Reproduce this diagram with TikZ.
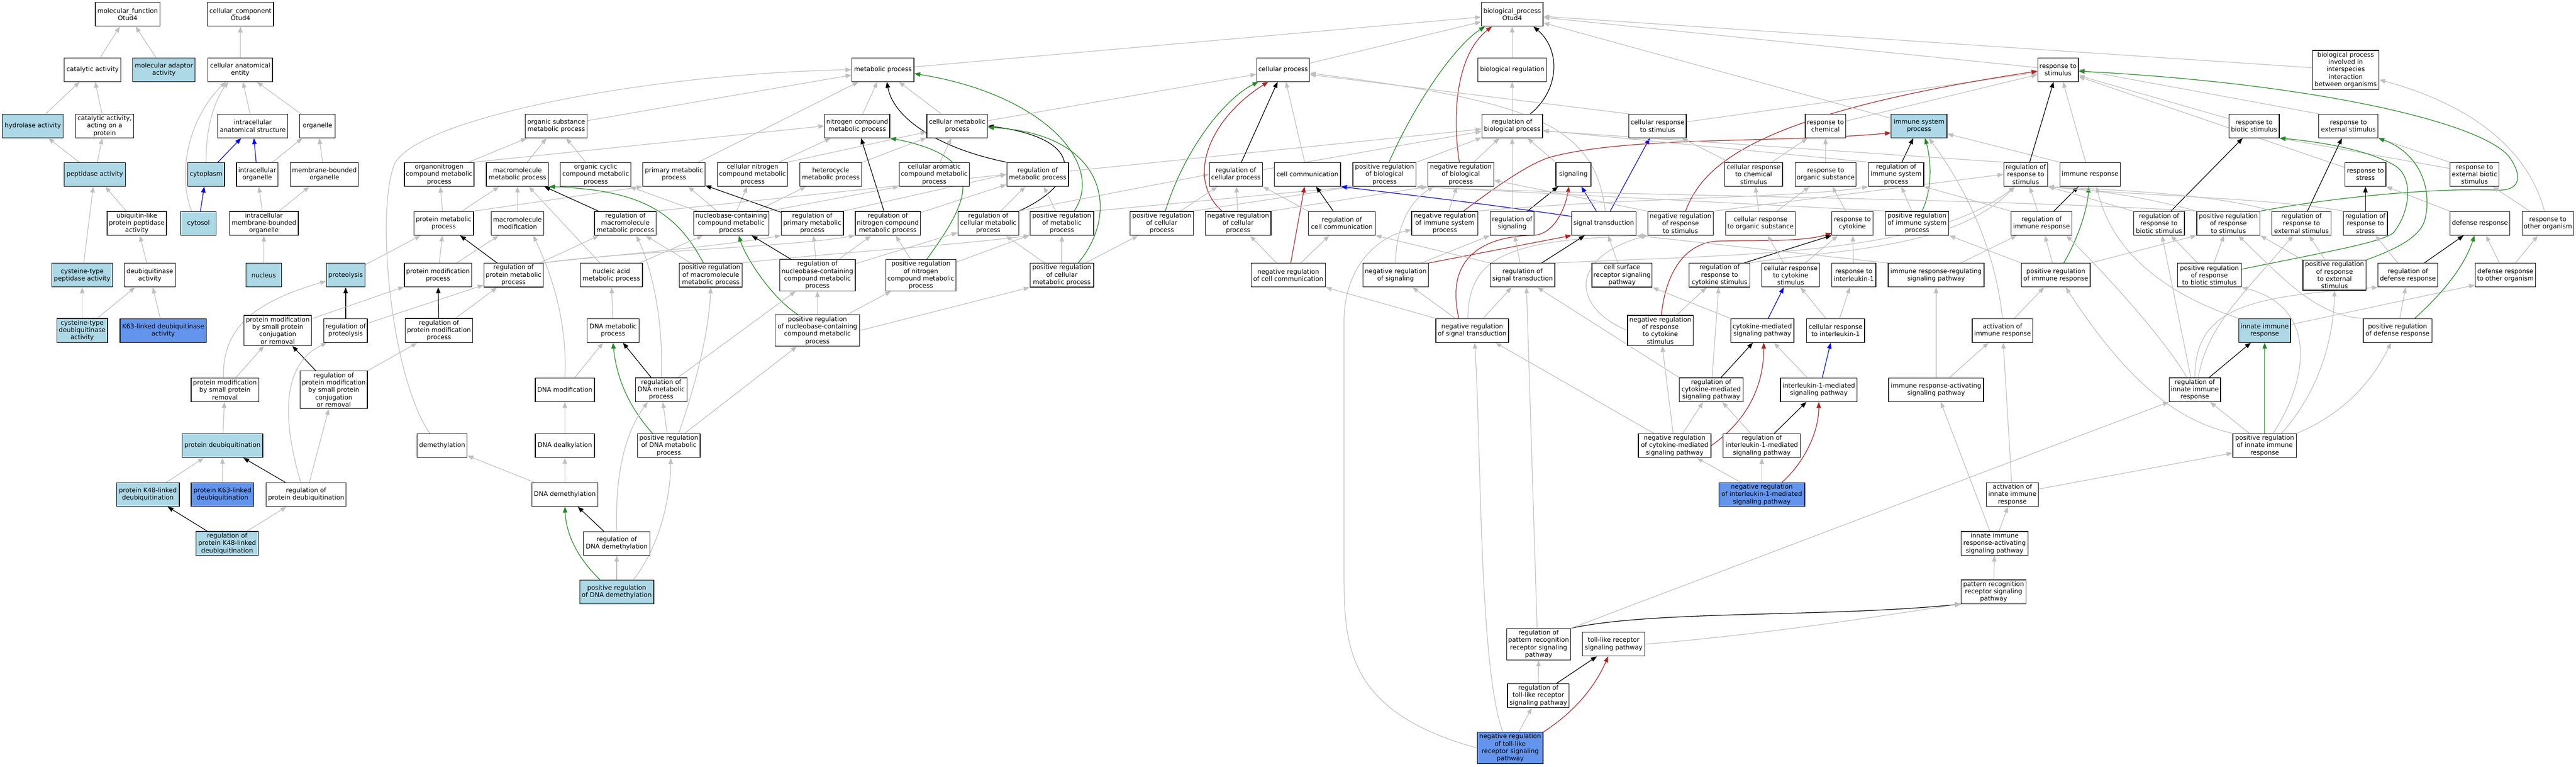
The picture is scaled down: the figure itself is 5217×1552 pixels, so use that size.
\documentclass[tikz,border=0pt]{standalone}
\usepackage{fontspec}
\setmainfont{DejaVu Sans}
\usetikzlibrary{arrows.meta}
\pgfdeclarelayer{bg}
\pgfsetlayers{bg,main}
\definecolor{eg}{RGB}{192,192,192}
\definecolor{lb}{RGB}{173,216,230}
\definecolor{cb}{RGB}{100,149,237}
\definecolor{fg}{RGB}{34,139,34}
\definecolor{fr}{RGB}{178,34,34}
\tikzset{
 nb/.style={draw=black, line width=1.3pt, fill=white, align=center, inner xsep=1.5pt, inner ysep=3pt, minimum height=48pt, font=\fontsize{12.8}{15}\selectfont},
 lbn/.style={fill=lb},
 cbn/.style={fill=cb},
 edgebase/.style={line width=1.3pt, -{Triangle[length=12pt,width=9pt]}},
 gE/.style={edgebase, draw=eg},
 kE/.style={edgebase, draw=black},
 grE/.style={edgebase, draw=fg},
 rE/.style={edgebase, draw=fr},
 bE/.style={edgebase, draw=blue},
}
\newcommand{\GOn}[5][]{\node[nb,#1,minimum width=#4pt] (#2) at (#3) {#5};}
\begin{document}
\begin{tikzpicture}[x=1pt,y=-1pt]
\useasboundingbox (0,0) rectangle (5217,1552);
% R0
\GOn{mf}{258.5,29}{131}{molecular\_function\\Otud4}
\GOn{cc}{487,29}{134}{cellular\_component\\Otud4}
\GOn{bp}{3062.5,29}{125}{biological\_process\\Otud4}
% R1
\GOn{catact}{187.5,141}{115}{catalytic activity}
\GOn[lbn]{molad}{332,141}{126}{molecular adaptor\\activity}
\GOn{cae}{486.5,141}{131}{cellular anatomical\\entity}
\GOn{metab}{1788,141}{126}{metabolic process}
\GOn{cellproc}{2598.5,141}{107}{cellular process}
\GOn{bioreg}{3062.5,141}{139}{biological regulation}
\GOn{respstim}{4168,141}{82}{response to\\stimulus}
\GOn{interspec}{4750.5,141.5}{135}{biological process\\involved in\\interspecies\\interaction\\between organisms}
% R2
\GOn[lbn]{hydro}{66.5,255}{123}{hydrolase activity}
\GOn{catprot}{212,255}{118}{catalytic activity,\\acting on a\\protein}
\GOn{ias}{512,255}{142}{intracellular\\anatomical structure}
\GOn{organelle}{643,255}{72}{organelle}
\GOn{orgsub}{1126.5,255}{125}{organic substance\\metabolic process}
\GOn{nitro}{1736,255}{132}{nitrogen compound\\metabolic process}
\GOn{cellmet}{1938.5,255}{123}{cellular metabolic\\process}
\GOn{regbio}{3062.5,255}{123}{regulation of\\biological process}
\GOn{cellrespstim}{3357,255}{116}{cellular response\\to stimulus}
\GOn{respchem}{3697,255}{82}{response to\\chemical}
\GOn[lbn]{immsys}{3886.5,255}{113}{immune system\\process}
\GOn{respbiotic}{4565,255}{102}{response to\\biotic stimulus}
\GOn{respext}{4756,255}{120}{response to\\external stimulus}
% R3
\GOn[lbn]{peptid}{192,353}{124}{peptidase activity}
\GOn[lbn]{cytoplasm}{417.5,353}{75}{cytoplasm}
\GOn{icorg}{521,353}{84}{intracellular\\organelle}
\GOn{mborg}{657,353}{138}{membrane-bounded\\organelle}
\GOn{orgnitro}{889.5,353}{141}{organonitrogen\\compound metabolic\\process}
\GOn{macromet}{1048,353}{126}{macromolecule\\metabolic process}
\GOn{orgcyc}{1206.5,353}{143}{organic cyclic\\compound metabolic\\process}
\GOn{primet}{1365,353}{126}{primary metabolic\\process}
\GOn{cellnitro}{1524,353}{142}{cellular nitrogen\\compound metabolic\\process}
\GOn{hetero}{1682.5,353}{125}{heterocycle\\metabolic process}
\GOn{cellarom}{1892,353}{142}{cellular aromatic\\compound metabolic\\process}
\GOn{regmet}{2101.5,353}{125}{regulation of\\metabolic process}
\GOn{regcell}{2503,353}{108}{regulation of\\cellular process}
\GOn{cellcomm}{2648,353}{134}{cell communication}
\GOn{posregbio}{2804,353}{128}{positive regulation\\of biological\\process}
\GOn{negregbio}{2958.5,353}{133}{negative regulation\\of biological\\process}
\GOn{signaling}{3186.5,353}{71}{signaling}
\GOn{cellrespchem}{3551.5,353}{117}{cellular response\\to chemical\\stimulus}
\GOn{resporg}{3697.5,353}{123}{response to\\organic substance}
\GOn{regimmsys}{3840,353}{112}{regulation of\\immune system\\process}
\GOn{regrespstim}{4102.5,353}{89}{regulation of\\response to\\stimulus}
\GOn{immresp}{4233,353}{122}{immune response}
\GOn{respstress}{4790.5,353}{83}{response to\\stress}
\GOn{respextbio}{5011.5,353}{99}{response to\\external biotic\\stimulus}
% R4
\GOn{ubl}{277,452}{120}{ubiquitin-like\\protein peptidase\\activity}
\GOn[lbn]{cytosol}{402,452}{72}{cytosol}
\GOn{imbo}{534.5,452}{139}{intracellular\\membrane-bounded\\organelle}
\GOn{protmet}{898.5,452}{121}{protein metabolic\\process}
\GOn{macromod}{1048,452}{106}{macromolecule\\modification}
\GOn{regmacro}{1266.5,452}{125}{regulation of\\macromolecule\\metabolic process}
\GOn{nucleo}{1481,452}{152}{nucleobase-containing\\compound metabolic\\process}
\GOn{regprim}{1645,452}{126}{regulation of\\primary metabolic\\process}
\GOn{regnitro}{1798,452}{132}{regulation of\\nitrogen compound\\metabolic process}
\GOn{regcellmet}{2001.5,452}{123}{regulation of\\cellular metabolic\\process}
\GOn{posregmet}{2150.5,452}{129}{positive regulation\\of metabolic\\process}
\GOn{posregcell}{2353,452}{128}{positive regulation\\of cellular\\process}
\GOn{negregcell}{2507.5,452}{133}{negative regulation\\of cellular\\process}
\GOn{regcellcomm}{2717.5,452}{135}{regulation of\\cell communication}
\GOn{negregimm}{2926,452}{134}{negative regulation\\of immune system\\process}
\GOn{regsig}{3062.5,452}{89}{regulation of\\signaling}
\GOn{sigtrans}{3248,452}{130}{signal transduction}
\GOn{negregrespstim}{3403.5,452}{133}{negative regulation\\of response\\to stimulus}
\GOn{cellresporg}{3565.5,452}{141}{cellular response\\to organic substance}
\GOn{respcyt}{3751.5,452}{83}{response to\\cytokine}
\GOn{posregimmsys}{3882.5,452}{129}{positive regulation\\of immune system\\process}
\GOn{regimmresp}{4134.5,452}{123}{regulation of\\immune response}
\GOn{regrespbio}{4372.5,452}{103}{regulation of\\response to\\biotic stimulus}
\GOn{posregrespstim}{4513,452}{128}{positive regulation\\of response\\to stimulus}
\GOn{regrespext}{4661,452}{120}{regulation of\\response to\\external stimulus}
\GOn{regrespstress}{4790.5,452}{89}{regulation of\\response to\\stress}
\GOn{defresp}{5022.5,452}{121}{defense response}
\GOn{resporgn}{5160,452}{104}{response to\\other organism}
% R5
\GOn[lbn]{cyspep}{166.5,557}{123}{cysteine-type\\peptidase activity}
\GOn{deubact}{303.5,557}{103}{deubiquitinase\\activity}
\GOn[lbn]{nucleus}{534,557}{72}{nucleus}
\GOn[lbn]{proteolysis}{700,557}{78}{proteolysis}
\GOn{protmod}{887,557}{136}{protein modification\\process}
\GOn{regprotmet}{1040,557}{120}{regulation of\\protein metabolic\\process}
\GOn{nucacid}{1238,557}{126}{nucleic acid\\metabolic process}
\GOn{posregmacro}{1439.5,557}{127}{positive regulation\\of macromolecule\\metabolic process}
\GOn{regnucleo}{1655.5,557}{153}{regulation of\\nucleobase-containing\\compound metabolic\\process}
\GOn{posregnitro}{1865,557}{142}{positive regulation\\of nitrogen\\compound metabolic\\process}
\GOn{posregcellmet}{2150.5,557}{129}{positive regulation\\of cellular\\metabolic process}
\GOn{negregcellcomm}{2609,557}{150}{negative regulation\\of cell communication}
\GOn{negregsig}{2826.5,557}{133}{negative regulation\\of signaling}
\GOn{regsigtrans}{3083.5,557}{131}{regulation of\\signal transduction}
\GOn{csrsp}{3285,557}{122}{cell surface\\receptor signaling\\pathway}
\GOn{regrespcyt}{3482.5,557}{123}{regulation of\\response to\\cytokine stimulus}
\GOn{cellrespcyt}{3626.5,557}{117}{cellular response\\to cytokine\\stimulus}
\GOn{respil1}{3754.5,557}{89}{response to\\interleukin-1}
\GOn{irrsp}{3921,557}{194}{immune response-regulating\\signaling pathway}
\GOn{posregimmresp}{4163.5,557}{139}{positive regulation\\of immune response}
\GOn{posregrespbio}{4474.5,557}{129}{positive regulation\\of response\\to biotic stimulus}
\GOn{posregrespext}{4728,557}{128}{positive regulation\\of response\\to external\\stimulus}
\GOn{regdef}{4876.5,557}{121}{regulation of\\defense response}
\GOn{defrespother}{5074,557}{122}{defense response\\to other organism}
% R6
\GOn[lbn]{cysdeub}{166.5,669}{103}{cysteine-type\\deubiquitinase\\activity}
\GOn[cbn]{k63deub}{330.5,669}{175}{K63-linked deubiquitinase\\activity}
\GOn{pmsp}{562.5,669}{137}{protein modification\\by small protein\\conjugation\\or removal}
\GOn{regproteolysis}{700,669}{88}{regulation of\\proteolysis}
\GOn{regprotmod}{889,669}{136}{regulation of\\protein modification\\process}
\GOn{dnamet}{1241.5,669}{105}{DNA metabolic\\process}
\GOn{posregnucleo}{1655.5,669}{171}{positive regulation\\of nucleobase-containing\\compound metabolic\\process}
\GOn{negregsigtrans}{2981.5,669}{147}{negative regulation\\of signal transduction}
\GOn{negregrespcyt}{3362.5,669}{133}{negative regulation\\of response\\to cytokine\\stimulus}
\GOn{cytmed}{3569,669}{128}{cytokine-mediated\\signaling pathway}
\GOn{cellrespil1}{3717.5,669}{117}{cellular response\\to interleukin-1}
\GOn{actimm}{4055.5,669}{123}{activation of\\immune response}
\GOn[lbn]{innate}{4586.5,669}{105}{innate immune\\response}
\GOn{posregdef}{4855.5,669}{139}{positive regulation\\of defense response}
% R7
\GOn{pmspr}{455.5,789}{137}{protein modification\\by small protein\\removal}
\GOn{regpmsp}{676,789}{136}{regulation of\\protein modification\\by small protein\\conjugation\\or removal}
\GOn{dnamod}{1144,789}{120}{DNA modification}
\GOn{regdnamet}{1339,789}{104}{regulation of\\DNA metabolic\\process}
\GOn{regcytmed}{3465.5,789}{129}{regulation of\\cytokine-mediated\\signaling pathway}
\GOn{il1med}{3683.5,789}{155}{interleukin-1-mediated\\signaling pathway}
\GOn{iasp}{3921,789}{192}{immune response-activating\\signaling pathway}
\GOn{reginnate}{4445,789}{104}{regulation of\\innate immune\\response}
% R8
\GOn[lbn]{protdeub}{450.5,902}{163}{protein deubiquitination}
\GOn{demeth}{895.5,902}{101}{demethylation}
\GOn{dnadealk}{1144,902}{120}{DNA dealkylation}
\GOn{posregdnamet}{1354.5,902}{127}{positive regulation\\of DNA metabolic\\process}
\GOn{negregcytmed}{3391.5,902}{147}{negative regulation\\of cytokine-mediated\\signaling pathway}
\GOn{regil1}{3568,902}{156}{regulation of\\interleukin-1-mediated\\signaling pathway}
\GOn{posreginnate}{4586.5,902}{129}{positive regulation\\of innate immune\\response}
% R9
\GOn[lbn]{k48deub}{299.5,1001}{127}{protein K48-linked\\deubiquitination}
\GOn[cbn]{k63pdeub}{450.5,1001}{127}{protein K63-linked\\deubiquitination}
\GOn{regprotdeub}{620,1001}{162}{regulation of\\protein deubiquitination}
\GOn{dnademeth}{1144,1001}{134}{DNA demethylation}
\GOn[cbn]{negregil1}{3568,1001}{174}{negative regulation\\of interleukin-1-mediated\\signaling pathway}
\GOn{actinnate}{4075.5,1001}{105}{activation of\\innate immune\\response}
% R10
\GOn[lbn]{regk48}{460,1100}{126}{regulation of\\protein K48-linked\\deubiquitination}
\GOn{regdnademeth}{1249,1100}{134}{regulation of\\DNA demethylation}
\GOn{iiasp}{4039.5,1100}{135}{innate immune\\response-activating\\signaling pathway}
% R11
\GOn[lbn]{posregdnademeth}{1249,1198}{150}{positive regulation\\of DNA demethylation}
\GOn{prrsp}{4037.5,1198}{131}{pattern recognition\\receptor signaling\\pathway}
% R12-14
\GOn{regprr}{3116,1304}{130}{regulation of\\pattern recognition\\receptor signaling\\pathway}
\GOn{tlr}{3268,1304}{126}{toll-like receptor\\signaling pathway}
\GOn{regtlr}{3115.5,1408}{125}{regulation of\\toll-like receptor\\signaling pathway}
\GOn[cbn]{negregtlr}{3058.5,1514}{133}{negative regulation\\of toll-like\\receptor signaling\\pathway}

\begin{pgfonlayer}{bg}
% molecular function
\draw[gE] (catact) -- (mf);
\draw[gE] (molad) -- (mf);
\draw[gE] (hydro) -- (catact);
\draw[gE] (catprot) -- (catact);
\draw[gE] (peptid) -- (hydro);
\draw[gE] (peptid) -- (catprot);
\draw[gE] (ubl) -- (peptid);
\draw[gE] (cyspep) -- (peptid);
\draw[gE] (deubact) -- (ubl);
\draw[gE] (cysdeub) -- (cyspep);
\draw[gE] (cysdeub) -- (deubact);
\draw[gE] (k63deub) -- (deubact);
% cellular component
\draw[gE] (cae) -- (cc);
\draw[gE] (ias) -- (cae);
\draw[gE] (organelle) -- (cae);
\draw[gE] ([xshift=-14pt]cytosol.north) .. controls (355,340) and (390,230) .. ([xshift=-29pt]cae.south);
\draw[gE] (cytoplasm.north) .. controls (416,250) and (440,195) .. ([xshift=-24pt]cae.south);
\draw[bE] (cytoplasm) -- (ias);
\draw[bE] (icorg) -- (ias);
\draw[gE] (icorg) -- (organelle);
\draw[gE] (mborg) -- (organelle);
\draw[bE] (cytosol) -- (cytoplasm);
\draw[gE] (imbo) -- (icorg);
\draw[gE] (imbo) -- (mborg);
\draw[gE] (nucleus) -- (imbo);
% protein
\draw[gE] (proteolysis) -- (protmet);
\draw[kE] (regproteolysis) -- (proteolysis);
\draw[gE] (regproteolysis) -- (regprotmet);
\draw[gE] (pmsp) -- (protmod);
\draw[gE] (pmspr) -- (pmsp);
\draw[gE] ([xshift=-3pt]pmspr.north) .. controls (450,660) and (520,610) .. ([yshift=-12pt]proteolysis.west);
\draw[kE] (regpmsp) -- (pmsp);
\draw[gE] (regpmsp) -- (regprotmod);
\draw[gE] ([xshift=-11pt]regprotdeub.north) .. controls (575,860) and (565,740) .. ([xshift=-38pt]regproteolysis.south);
\draw[gE] (regprotdeub) -- (regpmsp);
\draw[kE] (regprotdeub) -- (protdeub);
\draw[gE] (protdeub) -- (pmspr);
\draw[gE] (k48deub) -- (protdeub);
\draw[gE] (k63pdeub) -- (protdeub);
\draw[kE] (regk48) -- (k48deub);
\draw[gE] (regk48) -- (regprotdeub);
\draw[kE] (regprotmod) -- (protmod);
\draw[gE] (regprotmod) -- (regprotmet);
\draw[gE] (protmod) -- (protmet);
\draw[gE] (protmod) -- (macromod);
\draw[gE] (protmet) -- (orgnitro);
\draw[gE] (protmet) -- (macromet);
\draw[gE] (protmet.north east) -- (primet.south west);
\draw[kE] (regprotmet) -- (protmet);
\draw[gE] (regprotmet) -- (regmacro);
\draw[gE] (regprotmet.north east) .. controls (1200,520) and (1450,500) .. (regprim.south west);
\draw[gE] (regprotmet.north east) .. controls (1250,510) and (1600,500) .. (regnitro.south west);
% metabolic
\draw[gE] (orgsub) -- (metab);
\draw[gE] (primet) -- (metab);
\draw[gE] (nitro) -- (metab);
\draw[gE] (cellmet) -- (metab);
\draw[gE] ([xshift=-25pt]demeth.north) .. controls (790,760) and (760,420) .. (800,330) .. controls (850,240) and (1300,150) .. (metab.west);
\draw[kE] (regmet.north west) .. controls (1900,300) and (1810,240) .. ([xshift=8pt]metab.south);
\draw[grE] ([xshift=25pt]posregmet.north) .. controls (2240,330) and (2110,190) .. ([yshift=-8pt]metab.east);
\draw[gE] (orgnitro) -- (orgsub);
\draw[gE] (orgnitro.north east) -- (nitro.west);
\draw[gE] (macromet) -- (orgsub);
\draw[gE] (orgcyc) -- (orgsub);
\draw[gE] (macromod) -- (macromet);
\draw[kE] (regmacro) -- (macromet);
\draw[grE] ([xshift=-15pt]posregmacro.north) .. controls (1370,430) and (1300,385) .. (macromet.south east);
\draw[gE] (nucacid) -- (macromet);
\draw[gE] (nucleo) -- (orgcyc);
\draw[gE] (nucleo) -- (primet);
\draw[gE] (nucleo) -- (cellnitro);
\draw[gE] (nucleo) -- (hetero);
\draw[gE] (nucleo.north east) -- (cellarom.south west);
\draw[gE] (cellnitro) -- (nitro);
\draw[gE] (cellnitro.north east) -- ([yshift=-12pt]cellmet.west);
\draw[gE] (hetero) -- (cellmet);
\draw[gE] (cellarom) -- (cellmet);
\draw[kE] (regprim) -- (primet);
\draw[gE] (regprim.north east) -- (regmet.west);
\draw[kE] (regnitro) -- (nitro);
\draw[gE] (regnitro) -- (regmet);
\draw[gE] (regmacro.north east) -- (regmet.west);
\draw[kE] (regcellmet.north east) .. controls (2190,370) and (2200,280) .. (cellmet.east);
\draw[gE] (regcellmet) -- (regmet);
\draw[gE] (regcellmet.north east) -- (regcell.west);
\draw[gE] (posregmet) -- (regmet);
\draw[gE] (posregmet.north east) -- (posregbio.south west);
\draw[grE] ([xshift=33pt]posregcellmet.north) .. controls (2270,430) and (2240,270) .. ([yshift=-3pt]cellmet.east);
\draw[gE] (posregcellmet) -- (posregmet);
\draw[gE] (posregcellmet) -- (regcellmet);
\draw[gE] (posregcellmet) -- (posregcell);
\draw[grE] ([xshift=12pt]posregnitro.north) .. controls (1960,410) and (2010,320) .. (nitro.south east);
\draw[gE] (posregnitro) -- (regnitro);
\draw[gE] (posregnitro) -- (posregmet);
\draw[gE] (nucacid) -- (nucleo);
\draw[gE] (dnamet) -- (nucacid);
\draw[gE] (posregmacro) -- (regmacro);
\draw[gE] (posregmacro.north east) .. controls (1700,510) and (1900,500) .. (posregmet.south west);
\draw[kE] (regnucleo) -- (nucleo);
\draw[gE] (regnucleo) -- (regprim);
\draw[gE] (regnucleo) -- (regnitro);
\draw[gE] (regnucleo) -- (regcellmet);
\draw[gE] (posregnucleo) -- (regnucleo);
\draw[grE] ([xshift=-40pt]posregnucleo.north) .. controls (1560,600) and (1510,520) .. ([xshift=15pt]nucleo.south);
\draw[gE] (posregnucleo) -- (posregnitro);
\draw[gE] (posregnucleo.east) -- (posregcellmet.south west);
\draw[gE] (dnamod) -- (dnamet);
\draw[gE] (dnamod.north) .. controls (1150,640) and (1110,540) .. ([xshift=32pt]macromod.south);
\draw[kE] (regdnamet) -- (dnamet);
\draw[gE] (regdnamet.north) .. controls (1345,640) and (1315,530) .. ([xshift=22pt]regmacro.south);
\draw[gE] (regdnamet) -- (regnucleo);
\draw[grE] ([xshift=-33pt]posregdnamet.north) .. controls (1270,820) and (1248,760) .. (dnamet.south);
\draw[gE] (posregdnamet) -- (regdnamet);
\draw[gE] ([xshift=20pt]posregdnamet.north) .. controls (1405,790) and (1435,680) .. (posregmacro.south);
\draw[gE] (posregdnamet) -- (posregnucleo);
\draw[gE] (dnadealk) -- (dnamod);
\draw[gE] (dnademeth) -- (dnadealk);
\draw[gE] (dnademeth) -- (demeth);
\draw[kE] (regdnademeth) -- (dnademeth);
\draw[gE] (regdnademeth.north) .. controls (1245,950) and (1270,870) .. ([xshift=-27pt]regdnamet.south);
\draw[grE] ([xshift=-34pt]posregdnademeth.north) .. controls (1160,1120) and (1146,1070) .. (dnademeth.south);
\draw[gE] (posregdnademeth) -- (regdnademeth);
\draw[gE] ([xshift=34pt]posregdnademeth.north) .. controls (1340,1100) and (1358,1000) .. ([xshift=4pt]posregdnamet.south);
\draw[gE] (metab) -- (bp);
\draw[gE] (regmet) -- (regbio);
% cellular process
\draw[gE] (cellproc) -- (bp);
\draw[gE] (cellmet) -- (cellproc);
\draw[kE] (regcell) -- (cellproc);
\draw[grE] ([xshift=7pt]posregcell.north) .. controls (2400,300) and (2480,200) .. ([xshift=-50pt]cellproc.south);
\draw[rE] ([xshift=-33pt]negregcell.north) .. controls (2400,360) and (2450,240) .. ([xshift=-30pt]cellproc.south);
\draw[gE] (cellcomm) -- (cellproc);
\draw[gE] (posregcell) -- (regcell);
\draw[gE] (negregcell) -- (regcell);
\draw[gE] (regcell) -- (regbio);
\draw[gE] (posregcell.north east) -- (posregbio.south west);
\draw[gE] (negregcell.north east) -- (negregbio.south west);
\draw[gE] (negregcellcomm) -- (negregcell);
\draw[rE] ([xshift=5pt]negregcellcomm.north) -- ([xshift=-6pt]cellcomm.south);
\draw[gE] (negregcellcomm) -- (regcellcomm);
\draw[kE] (regcellcomm) -- (cellcomm);
\draw[gE] (regcellcomm.north west) -- (regcell.south east);
% biological
\draw[gE] (bioreg) -- (bp);
\draw[gE] (regbio) -- (bioreg);
\draw[kE] ([xshift=37pt]regbio.north) .. controls (3160,180) and (3160,100) .. ([xshift=43pt]bp.south);
\draw[grE] ([xshift=9pt]posregbio.north) .. controls (2870,200) and (2950,90) .. ([xshift=-55pt]bp.south);
\draw[rE] ([xshift=-3pt]negregbio.north) .. controls (2940,230) and (2950,110) .. ([xshift=-41pt]bp.south);
\draw[gE] (posregbio) -- (regbio);
\draw[gE] (negregbio) -- (regbio);
\draw[gE] (signaling.north west) -- ([xshift=31pt]regbio.south);
\draw[gE] (regsig) -- (regbio);
\draw[kE] (regsig) -- (signaling);
\draw[bE] ([xshift=-15pt]sigtrans.north) -- ([xshift=16pt]signaling.south);
\draw[bE] ([xshift=13pt]sigtrans.north) -- ([xshift=-16pt]cellrespstim.south);
\draw[bE] ([yshift=14pt]sigtrans.west) .. controls (2990,410) and (2830,392) .. (cellcomm.south east);
\draw[gE] ([xshift=3pt]sigtrans.north) .. controls (3230,250) and (3100,205) .. ([yshift=-7pt]cellproc.east);
\draw[gE] (cellrespstim.north west) -- ([yshift=-10pt]cellproc.east);
\draw[gE] (cellrespstim) -- (respstim);
\draw[gE] (negregimm) -- (negregbio);
\draw[rE] ([xshift=38pt]negregimm.north) .. controls (3040,370) and (3100,330) .. (3140,318) .. controls (3300,275) and (3600,290) .. ([yshift=-14pt]immsys.west);
\draw[gE] (negregimm.north east) .. controls (3300,400) and (3650,400) .. (regimmsys.south west);
\draw[rE] ([xshift=10pt]negregrespstim.north) .. controls (3450,330) and (3560,230) .. ([yshift=-3pt]respstim.west);
\draw[gE] (negregrespstim.north west) -- ([yshift=-12pt]negregbio.east);
\draw[gE] (negregrespstim.north east) -- (regrespstim.west);
\draw[rE] (negregsig.north east) -- (sigtrans.south west);
\draw[rE] ([xshift=-27pt]negregsigtrans.north) .. controls (2930,540) and (2980,478) .. (3110,476) .. controls (3150,470) and (3170,420) .. ([xshift=-9pt]signaling.south);
\draw[gE] ([xshift=-15pt]negregsig.north east) -- (regsig.south west);
\draw[gE] (negregsig.north) .. controls (2826,470) and (2850,410) .. ([xshift=-55pt]negregbio.south);
\draw[gE] (negregsigtrans) -- (negregsig);
\draw[gE] (negregsigtrans) -- (regsigtrans);
\draw[gE] (negregsigtrans.north west) -- (negregcellcomm.south east);
\draw[gE] ([xshift=-9pt]negregsigtrans.north) .. controls (2975,520) and (3050,485) .. (negregrespstim.south west);
\draw[kE] (regsigtrans) -- (sigtrans);
\draw[gE] (regsigtrans) -- (regsig);
\draw[gE] (regsigtrans.north west) -- (regcellcomm.south east);
\draw[gE] (regsigtrans.north east) .. controls (3500,515) and (3900,520) .. ([xshift=-22pt]regrespstim.south);
\draw[gE] (csrsp) -- (sigtrans);
\draw[gE] (negregrespcyt) -- (regrespcyt);
\draw[gE] (negregrespcyt.west) .. controls (3180,620) and (3180,520) .. (negregrespstim.south west);
\draw[rE] ([xshift=2pt]negregrespcyt.north) .. controls (3375,540) and (3420,490) .. (3480,488) .. controls (3560,486) and (3650,490) .. ([yshift=-20pt]respcyt.west);
\draw[kE] ([xshift=50pt]regrespcyt.north) -- (respcyt.south west);
\draw[gE] (regrespcyt.north east) .. controls (3700,505) and (3950,510) .. ([xshift=-22pt]regrespstim.south);
\draw[kE] ([xshift=20pt]regcytmed.north) -- ([xshift=-19pt]cytmed.south);
\draw[gE] (regcytmed) -- (regrespcyt);
\draw[gE] (regcytmed.north west) -- ([xshift=30pt]regsigtrans.south);
\draw[gE] (negregcytmed) -- (regcytmed);
\draw[gE] (negregcytmed) -- (negregrespcyt);
\draw[gE] ([xshift=-42pt]negregcytmed.north) -- ([xshift=47pt]negregsigtrans.south);
\draw[rE] (negregcytmed.east) .. controls (3540,850) and (3572,780) .. ([xshift=3pt]cytmed.south);
\draw[gE] ([xshift=-3pt]regprr.north) -- ([xshift=8pt]regsigtrans.south);
\draw[kE] (regprr.north east) .. controls (3350,1235) and (3700,1250) .. (prrsp.south west);
\draw[gE] (tlr.east) .. controls (3600,1282) and (3850,1240) .. (prrsp.south west);
\draw[gE] (regprr.north east) -- (reginnate.south west);
\draw[kE] ([xshift=37pt]regtlr.north) -- ([xshift=-34pt]tlr.south);
\draw[gE] (regtlr) -- (regprr);
\draw[gE] (negregtlr) -- (regtlr);
\draw[rE] (negregtlr.north east) .. controls (3190,1440) and (3230,1390) .. ([xshift=-11pt]tlr.south);
\draw[gE] ([xshift=-15pt]negregtlr.north) .. controls (2995,1350) and (3000,900) .. ([xshift=5pt]negregsigtrans.south);
\draw[gE] (negregtlr.west) .. controls (2720,1440) and (2722,1300) .. (2722,1150) -- (2722,650) .. controls (2722,540) and (2790,480) .. ([yshift=-13pt]negregimm.west);
% stimulus
\draw[gE] (respstim) -- (bp);
\draw[gE] (immsys) -- (bp);
\draw[gE] (interspec) -- (bp);
\draw[gE] (respchem) -- (respstim);
\draw[gE] (resporg) -- (respchem);
\draw[gE] (cellrespchem) -- (respchem);
\draw[gE] (cellrespchem) -- (cellrespstim);
\draw[kE] (regimmsys) -- (immsys);
\draw[grE] ([xshift=10pt]posregimmsys.north) .. controls (3915,380) and (3910,320) .. ([xshift=12pt]immsys.south);
\draw[gE] (posregimmsys) -- (regimmsys);
\draw[gE] (posregimmsys.north west) -- (posregbio.south east);
\draw[gE] (actimm.north) .. controls (4040,500) and (3980,380) .. ([xshift=20pt]immsys.south);
\draw[gE] (immresp.north west) -- ([yshift=-16pt]immsys.east);
\draw[gE] ([xshift=-9pt]immresp.north) -- ([xshift=10pt]respstim.south);
\draw[kE] ([xshift=8pt]regrespstim.north) -- ([xshift=-9pt]respstim.south);
\draw[gE] (regimmsys.north west) -- ([yshift=-9pt]regbio.east);
\draw[gE] (regrespstim.north west) -- ([yshift=-10pt]regbio.east);
\draw[gE] (cellresporg) -- (resporg);
\draw[gE] (cellresporg) -- (cellrespchem);
\draw[gE] (respcyt) -- (resporg);
\draw[kE] ([xshift=25pt]regimmresp.north) -- ([xshift=-24pt]immresp.south);
\draw[gE] (regimmresp.north west) -- (regimmsys.south east);
\draw[gE] (regimmresp) -- (regrespstim);
\draw[grE] ([xshift=16pt]posregimmresp.north) .. controls (4210,480) and (4228,420) .. ([xshift=-3pt]immresp.south);
\draw[gE] (posregimmresp) -- (regimmresp);
\draw[gE] (posregimmresp.north west) -- (posregimmsys.south east);
\draw[gE] (posregimmresp.north east) -- (posregrespstim.south west);
\draw[gE] ([xshift=50pt]irrsp.north) -- ([xshift=-50pt]regimmresp.south);
\draw[gE] (irrsp.north west) -- (sigtrans.south east);
\draw[gE] (cellrespcyt) -- (respcyt);
\draw[gE] (cellrespcyt) -- (cellresporg);
\draw[gE] (respil1) -- (respcyt);
\draw[bE] ([xshift=12pt]cytmed.north) -- ([xshift=-14pt]cellrespcyt.south);
\draw[gE] (cytmed.north west) -- (csrsp.south east);
\draw[gE] (cellrespil1) -- (cellrespcyt);
\draw[gE] (cellrespil1) -- (respil1);
\draw[bE] ([xshift=7pt]il1med.north) -- ([xshift=-10pt]cellrespil1.south);
\draw[gE] (il1med) -- (cytmed);
\draw[kE] (regil1) -- (il1med);
\draw[gE] (regil1) -- (regcytmed);
\draw[gE] (negregil1) -- (regil1);
\draw[rE] ([xshift=41pt]negregil1.north) .. controls (3650,940) and (3683,880) .. (il1med.south);
\draw[gE] ([xshift=-43pt]negregil1.north) -- ([xshift=45pt]negregcytmed.south);
\draw[gE] (iasp) -- (irrsp);
\draw[gE] ([xshift=27pt]iasp.north) -- ([xshift=-28pt]actimm.south);
\draw[gE] (actimm) -- (posregimmresp);
\draw[gE] (actinnate) -- (actimm);
\draw[gE] ([yshift=11pt]actinnate.east) -- ([yshift=-15pt]posreginnate.west);
\draw[gE] (iiasp) -- (iasp);
\draw[gE] (iiasp) -- (actinnate);
\draw[gE] (prrsp) -- (iiasp);
\draw[gE] (posreginnate) -- (reginnate);
\draw[grE] (posreginnate) -- (innate);
\draw[gE] ([xshift=17pt]posreginnate.north) .. controls (4680,760) and (4690,620) .. (posregrespbio.south east);
\draw[gE] ([xshift=34pt]posreginnate.north) .. controls (4690,800) and (4725,700) .. (posregrespext.south);
\draw[gE] (posreginnate.north east) .. controls (4740,840) and (4800,780) .. ([xshift=-13pt]posregdef.south);
\draw[gE] (posreginnate.north west) .. controls (4400,850) and (4300,760) .. ([xshift=20pt]posregimmresp.south);
\draw[kE] ([xshift=29pt]reginnate.north) -- ([xshift=-28pt]innate.south);
\draw[gE] ([xshift=-16pt]reginnate.north) .. controls (4380,680) and (4250,540) .. ([xshift=50pt]regimmresp.south);
\draw[gE] ([xshift=-8pt]reginnate.north) -- ([xshift=6pt]regrespbio.south);
\draw[gE] (reginnate.north) .. controls (4445,620) and (4560,600) .. (regdef.south west);
\draw[gE] ([xshift=7pt]reginnate.north) .. controls (4470,660) and (4540,600) .. ([xshift=-17pt]regrespext.south);
\draw[gE] (innate.north west) .. controls (4400,600) and (4280,520) .. ([xshift=13pt]immresp.south);
\draw[gE] ([yshift=12pt]innate.east) -- ([yshift=-20pt]defrespother.west);
% right part
\draw[gE] (respbiotic) -- (respstim);
\draw[gE] (respext.north west) -- (respstim.east);
\draw[gE] (respstress) -- (respstim);
\draw[grE] (posregrespstim.north east) .. controls (4750,395) and (4950,380) .. (5060,385) .. controls (5110,385) and (5105,350) .. (5082,318) .. controls (5030,250) and (4700,170) .. ([yshift=-3pt]respstim.east);
\draw[gE] ([yshift=12pt]respextbio.west) -- (respbiotic.south east);
\draw[gE] (respextbio.north west) -- (respext.south east);
\draw[gE] (resporgn) -- (respextbio);
\draw[gE] ([xshift=-7pt]resporgn.north) .. controls (5120,300) and (5000,210) .. ([yshift=-20pt]interspec.east);
\draw[gE] (defresp.north west) -- (respstress.south east);
\draw[kE] ([xshift=24pt]regrespbio.north) -- ([xshift=-23pt]respbiotic.south);
\draw[kE] ([xshift=12pt]regrespext.north) -- ([xshift=-13pt]respext.south);
\draw[kE] (regrespstress) -- (respstress);
\draw[grE] ([yshift=12pt]posregrespbio.east) .. controls (4700,512) and (4830,490) .. (4848,470) .. controls (4880,430) and (4890,360) .. (4850,335) .. controls (4790,300) and (4680,285) .. (respbiotic.south east);
\draw[grE] (posregrespext.north east) .. controls (4850,505) and (4905,480) .. (4912,440) .. controls (4925,380) and (4900,310) .. (respext.south east);
\draw[gE] (posregrespbio) -- (regrespbio);
\draw[gE] (posregrespbio) -- (posregrespstim);
\draw[gE] (posregrespext) -- (regrespext);
\draw[gE] (posregrespext.north west) -- (posregrespstim.south east);
\draw[gE] (regrespbio.north west) -- (regrespstim.south east);
\draw[gE] (posregrespstim.north west) .. controls (4350,400) and (4250,385) .. (regrespstim.south east);
\draw[gE] (regrespext.north west) .. controls (4500,395) and (4300,385) .. (regrespstim.south east);
\draw[gE] (regrespstress.north west) .. controls (4600,400) and (4300,395) .. (regrespstim.south east);
\draw[gE] (posregrespstim.north west) .. controls (4000,400) and (3200,395) .. (posregbio.south east);
\draw[kE] ([xshift=33pt]regdef.north) -- ([xshift=-33pt]defresp.south);
\draw[gE] (regdef) -- (regrespstress);
\draw[gE] (defrespother) -- (defresp);
\draw[gE] (defrespother) -- (resporgn);
\draw[grE] ([xshift=35pt]posregdef.north) .. controls (4950,590) and (4990,540) .. ([xshift=-11pt]defresp.south);
\draw[gE] (posregdef) -- (regdef);
\draw[gE] (posregdef.north west) .. controls (4690,640) and (4620,560) .. ([xshift=20pt]posregrespstim.south);
\end{pgfonlayer}
\end{tikzpicture}
\end{document}
